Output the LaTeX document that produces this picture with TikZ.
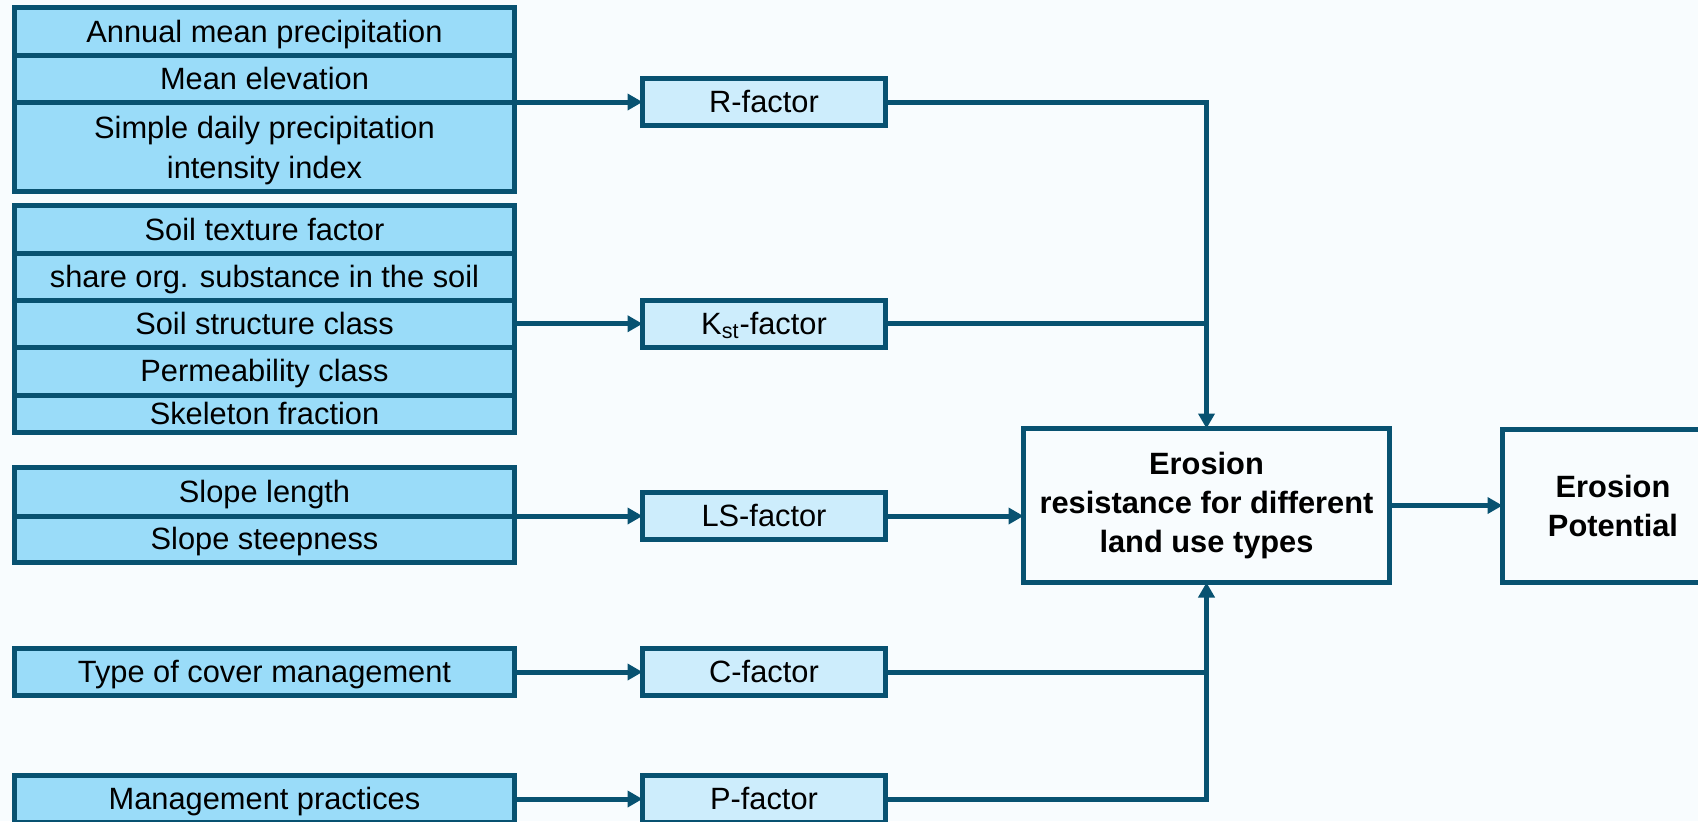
\documentclass[tikz,border=0pt]{standalone}
\usepackage{fontspec}
\setmainfont{Liberation Sans}
\usetikzlibrary{shapes,arrows.meta,positioning,backgrounds}
\definecolor{dkblue}{RGB}{8,82,113}
\definecolor{inblue}{RGB}{154,220,249}
\definecolor{facblue}{RGB}{205,237,252}
\definecolor{bgblue}{RGB}{248,252,254}
\tikzset{%
inbase/.style={rectangle, draw=dkblue, line width=2.5pt, fill=inblue, minimum width=250pt, inner sep=0pt, outer sep=0pt, align=center, font=\fontsize{15.4}{20}\selectfont},
inbox/.style={inbase, text height=13pt, text depth=2.5pt},
facbox/.style={rectangle, draw=dkblue, line width=2.5pt, fill=facblue, minimum width=121.5pt, minimum height=23.5pt, inner sep=0pt, outer sep=0pt, text height=13pt, text depth=2.5pt, font=\fontsize{15.4}{19.5}\selectfont},
resbox/.style={rectangle, draw=dkblue, line width=2.5pt, fill=bgblue, minimum height=77pt, inner sep=0pt, outer sep=0pt, align=center, font=\fontsize{15.4}{19.5}\selectfont\bfseries},
pt/.style={draw=dkblue, line width=2.5pt, -{Triangle[length=7.5pt,width=8pt]}},
ln/.style={draw=dkblue, line width=2.5pt}
}

\begin{document}
\begin{tikzpicture}[x=0.5pt, y=-0.5pt]
		\useasboundingbox (0,0) rectangle (1698,821);
		\clip (0,0) rectangle (1698,821);
		\fill[bgblue] (0,0) rectangle (1698,821);

		\node[inbox, minimum height=24pt] (ann) at (264.5,31.5) {Annual mean precipitation};
		\node[inbox, minimum height=23.25pt] (elev) [below=0pt of ann] {Mean elevation};
		\node[inbase, minimum height=44.75pt] (sdii) [below=0pt of elev] {\rule{0pt}{14.5pt}Simple daily precipitation\\intensity index};

		\node[inbox, minimum height=24pt] (tex) at (264.5,229.5) {Soil texture factor};
		\node[inbox, minimum height=23.25pt] (org) [below=0pt of tex] {share org. substance in the soil};
		\node[inbox, minimum height=23.75pt] (struc) [below=0pt of org] {Soil structure class};
		\node[inbox, minimum height=23.75pt] (perm) [below=0pt of struc] {Permeability class};
		\node[inbox, minimum height=18.75pt] (skel) [below=0pt of perm] {Skeleton fraction};

		\node[inbox, minimum height=24.25pt] (slen) at (264.5,491.75) {Slope length};
		\node[inbox, minimum height=23.25pt] (ssteep) [below=0pt of slen] {Slope steepness};
		\node[inbox, minimum height=23.5pt] (cover) at (264.5,672) {Type of cover management};
		\node[inbox, minimum height=23.5pt] (mgmt) at (264.5,799) {Management practices};

		\node[facbox] (rfac) [right=64pt of elev.south east] {R-factor};
		\node[facbox] (kfac) [right=64pt of struc] {K\textsubscript{st}-factor};
		\node[facbox] (lsfac) [right=64pt of slen.south east] {LS-factor};
		\node[facbox] (cfac) [right=64pt of cover] {C-factor};
		\node[facbox] (pfac) [right=64pt of mgmt] {P-factor};

		\node[resbox, minimum width=183pt] (ero) at (1206.5,505.5) {Erosion\\resistance for different\\land use types};
		\node[resbox, minimum width=110.5pt, minimum height=76.5pt] (pot) [right=56.5pt of ero] {Erosion\\Potential};

		\draw[pt] (rfac.west -| sdii.east) -- (rfac.west);
		\draw[pt] (struc) -- (kfac);
		\draw[pt] (lsfac.west -| slen.east) -- (lsfac.west);
		\draw[pt] (cover) -- (cfac);
		\draw[pt] (mgmt) -- (pfac);
		\draw[pt] (rfac.east) -| (ero.north);
		\draw[ln] (kfac.east) -- (kfac.east -| ero.north);
		\draw[pt] (lsfac.east) -- (lsfac.east -| ero.west);
		\draw[ln] (cfac.east) -- (cfac.east -| ero.south);
		\draw[pt] (pfac.east) -| (ero.south);
		\draw[pt] (ero) -- (pot);
	\end{tikzpicture}
\end{document}
